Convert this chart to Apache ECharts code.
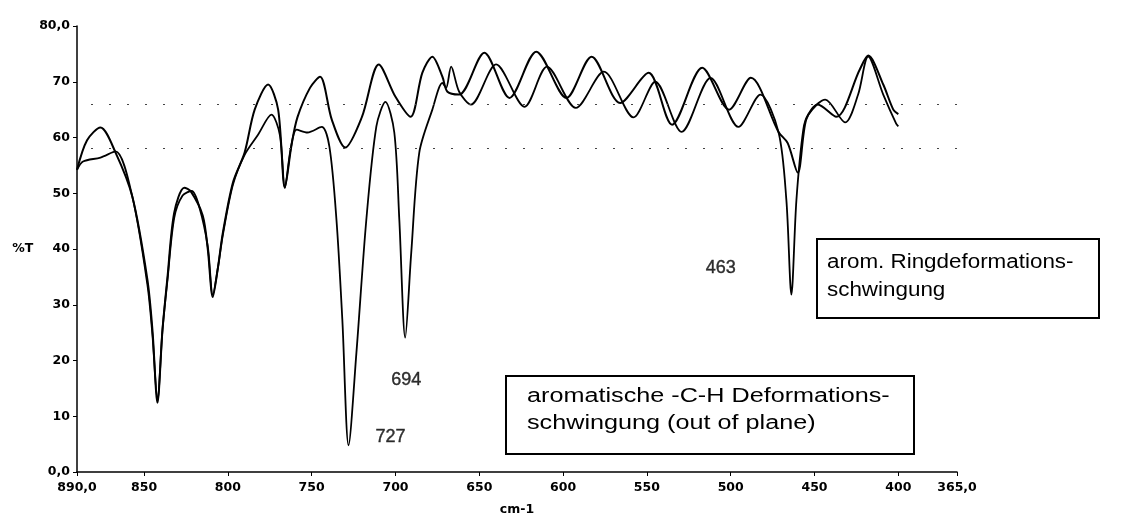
<!DOCTYPE html>
<html>
<head>
<meta charset="utf-8">
<script src="https://cdn.jsdelivr.net/npm/echarts@6/dist/echarts.min.js"></script>
<style>html,body{margin:0;padding:0;background:#fff}#c{width:1130px;height:516px}</style>
</head>
<body>
<div id="c"></div>
<script>
// Curve A (smoother, upper trace)
const wnA = [890, 884, 876, 867, 857, 848, 845, 842, 839, 836, 832, 826, 822, 815, 812, 809, 806, 803, 797, 790, 784, 776, 770, 766, 762, 758.5, 751, 745, 738, 730, 720, 710, 700, 691, 684, 678, 672, 669, 662, 647, 632, 616, 598, 583, 566, 549, 535, 517, 501, 488, 471.5, 466, 460, 455, 448, 437, 423, 418, 409, 403, 400];
const tA  = [54.2, 59.5, 61.8, 57.3, 49.4, 34.5, 25.5, 12.4, 25.5, 35, 46.5, 51, 50.3, 46, 40, 31.4, 36.5, 42.9, 51.9, 57.3, 65, 69.5, 65, 51, 58.7, 63.6, 68.9, 70.9, 63.2, 58.2, 63.7, 73.1, 67.3, 63.7, 71.6, 74.5, 70.9, 68.2, 67.7, 75.2, 67.1, 75.4, 67.1, 74.5, 66.2, 71.6, 62.3, 72.5, 65, 70.7, 61, 59, 53.7, 63.2, 65.9, 63.7, 72.2, 74.7, 69.5, 65, 64.2];
// Curve B (trace with the strong 727 / 694 / 463 bands)
const wnB = [890, 886.4, 876, 867, 857, 848, 845, 842, 839, 836, 832, 827, 821.5, 817, 812, 809, 806, 803, 797, 790, 782, 774, 769, 766, 762.6, 759, 752.5, 744, 739.4, 735.2, 731.7, 728, 723.3, 717.4, 711.4, 706, 700.7, 697.7, 694.2, 690.6, 685.8, 678, 672, 669.8, 666.8, 662, 655, 640, 623, 609.6, 592.4, 575.7, 558, 545, 529.3, 512, 495.4, 482.3, 471.5, 466.8, 463.8, 460.8, 456.7, 453.7, 443.6, 431.7, 424, 418, 409, 401.3, 400];
const tB  = [54.2, 55.7, 56.4, 57.5, 49.4, 33.6, 24.6, 12.9, 25.5, 34.5, 45.6, 49.6, 50.4, 47.5, 40.5, 31.8, 36.5, 42.5, 51.5, 56.9, 60.5, 64.1, 60.5, 51, 57.8, 61.4, 60.9, 61.9, 58.3, 45.2, 27.3, 4.8, 21.4, 45.2, 62, 66.4, 60.9, 45.2, 24.1, 39.3, 57.3, 65, 69.8, 68.9, 72.7, 68.2, 65.9, 73.1, 65.5, 72.7, 65.3, 71.8, 63.6, 70, 61, 70.7, 61.9, 67.7, 61, 48.8, 31.8, 48.8, 61.4, 64.1, 66.8, 62.7, 67.7, 74.5, 67.7, 62.5, 62];
// Axis ticks
const xTicks = [890, 850, 800, 750, 700, 650, 600, 550, 500, 450, 400, 365];
// Band annotations: [wavenumber, %T position, label]
const bandLabels = [[703, 6.3, '727'], [693.6, 16.5, '694'], [506, 36.6, '463']];
const guideLevels = [66, 58];

const chart = echarts.init(document.getElementById('c'), null, {renderer: 'canvas'});
const pairs = (xs, ys) => xs.map((x, i) => [x, ys[i]]);
const lab = {fontFamily: 'DejaVu Sans, sans-serif', fontWeight: 'bold', fontSize: 12.5, color: '#000'};
const boxFont = {fontFamily: 'Liberation Sans, Arial, sans-serif', fontSize: 20, fill: '#000',
  align: 'left', verticalAlign: 'middle'};

chart.setOption({
  animation: false,
  backgroundColor: '#fff',
  grid: {left: 77, right: 173, top: 26, bottom: 44, outerBoundsMode: 'none', containLabel: false},
  xAxis: {
    type: 'value', inverse: true, min: 365, max: 890,
    name: 'cm-1', nameLocation: 'middle', nameGap: 31,
    nameTextStyle: lab,
    splitLine: {show: false},
    axisLine: {lineStyle: {color: '#000', width: 1.5}},
    axisTick: {show: true, length: 4, customValues: xTicks, lineStyle: {color: '#000'}},
    axisLabel: Object.assign({}, lab, {margin: 9, customValues: xTicks,
      formatter: v => (v === 890 || v === 365) ? v + ',0' : String(v)})
  },
  yAxis: {
    type: 'value', min: 0, max: 80, interval: 10,
    name: '%T', nameLocation: 'middle', nameGap: 36, nameRotate: 0,
    nameTextStyle: lab,
    splitLine: {show: false},
    axisLine: {show: true, lineStyle: {color: '#000', width: 1.5}},
    axisTick: {show: true, length: 4, lineStyle: {color: '#000'}},
    axisLabel: Object.assign({}, lab, {margin: 7,
      formatter: v => (v === 0 || v === 80) ? v + ',0' : String(v)})
  },
  series: [
    {
      type: 'line', name: 'A', data: pairs(wnA, tA), showSymbol: false,
      smooth: 0.3,
      lineStyle: {color: '#000', width: 2},
      markLine: {
        silent: true, symbol: 'none', label: {show: false},
        lineStyle: {color: '#444', type: [2, 16], width: 1},
        data: guideLevels.map(v => ({yAxis: v}))
      }
    },
    {
      type: 'line', name: 'B', data: pairs(wnB, tB), showSymbol: false,
      smooth: 0.3,
      lineStyle: {color: '#000', width: 1.8}
    },
    {
      type: 'scatter', name: 'bands', data: bandLabels, symbolSize: 0, silent: true,
      label: {show: true, position: 'inside', formatter: p => p.data[2],
        fontFamily: 'Liberation Sans, Arial, sans-serif', fontSize: 18, color: '#000',
        textBorderColor: '#000', textBorderWidth: 0.4}
    }
  ],
  graphic: [
    {type: 'rect', left: 816, top: 238, shape: {width: 282, height: 79},
     style: {fill: '#fff', stroke: '#000', lineWidth: 2}, z: 10},
    {type: 'text', x: 827, y: 262, scaleX: 1.12, z: 11,
     style: Object.assign({text: 'arom. Ringdeformations-'}, boxFont)},
    {type: 'text', x: 827, y: 290, scaleX: 1.12, z: 11,
     style: Object.assign({text: 'schwingung'}, boxFont)},
    {type: 'rect', left: 505, top: 375, shape: {width: 408, height: 78},
     style: {fill: '#fff', stroke: '#000', lineWidth: 2}, z: 10},
    {type: 'text', x: 527, y: 396, scaleX: 1.26, z: 11,
     style: Object.assign({text: 'aromatische -C-H Deformations-'}, boxFont)},
    {type: 'text', x: 527, y: 423, scaleX: 1.26, z: 11,
     style: Object.assign({text: 'schwingung (out of plane)'}, boxFont)}
  ]
});
</script>
</body>
</html>
